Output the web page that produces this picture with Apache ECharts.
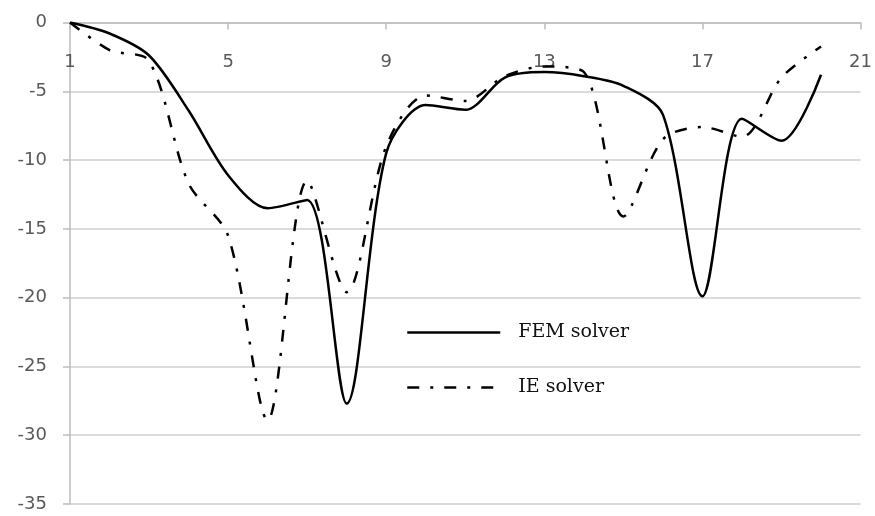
<!DOCTYPE html>
<html>
<head>
<meta charset="utf-8">
<script src="https://cdn.jsdelivr.net/npm/echarts@6/dist/echarts.min.js"></script>
<style>
html,body{margin:0;padding:0;background:#fff;}
#chart{width:875px;height:516px;}
</style>
</head>
<body>
<div id="chart"></div>
<script>
const categories = ['1','2','3','4','5','6','7','8','9','10','11','12','13','14','15','16','17','18','19','20','21'];
const femValues = [0, -0.8, -2.4, -6.4, -11.1, -13.5, -12.9, -27.7, -9.5, -6.0, -6.35, -4.0, -3.6, -3.9, -4.6, -6.7, -19.9, -7.0, -8.6, -3.8];
const ieValues  = [0, -2.0, -2.8, -11.7, -15.5, -28.9, -11.5, -19.6, -9.0, -5.3, -5.7, -3.9, -3.2, -3.6, -14.1, -8.5, -7.6, -8.3, -4.0, -1.75];
const seriesNames = ['FEM solver', 'IE solver'];

const chart = echarts.init(document.getElementById('chart'), null, {renderer: 'canvas'});
const labelFont = {fontFamily: 'DejaVu Sans', fontSize: 18, color: '#595959'};
chart.setOption({
  animation: false,
  backgroundColor: '#ffffff',
  grid: {left: 70, right: 12, top: 22.5, bottom: 12},
  legend: {
    orient: 'vertical',
    left: 401,
    top: 318,
    itemWidth: 93,
    itemHeight: 14,
    itemGap: 36,
    itemStyle: {opacity: 0},
    lineStyle: {width: 2.5},
    textStyle: {fontFamily: 'DejaVu Serif', fontSize: 19, color: '#111', padding: [8, 0, 0, 13]},
    data: seriesNames
  },
  xAxis: {
    type: 'category',
    data: categories,
    position: 'top',
    boundaryGap: false,
    axisLine: {onZero: false, lineStyle: {color: '#bdbdbd', width: 1.5}},
    axisTick: {show: true, inside: true, interval: 3, length: 7, lineStyle: {color: '#bdbdbd', width: 1.5}},
    axisLabel: Object.assign({inside: true, interval: 3, margin: 31}, labelFont),
    splitLine: {show: false}
  },
  yAxis: {
    type: 'value',
    min: -35,
    max: 0,
    interval: 5,
    axisLine: {show: true, lineStyle: {color: '#bdbdbd', width: 1.5}},
    axisTick: {show: true, length: 7, lineStyle: {color: '#bdbdbd', width: 1.5}},
    axisLabel: Object.assign({margin: 23}, labelFont),
    splitLine: {show: true, lineStyle: {color: '#cfcfcf', width: 1.5}}
  },
  series: [
    {
      name: seriesNames[0],
      type: 'line',
      data: femValues,
      smooth: 0.3,
      symbol: 'none',
      lineStyle: {color: '#000', width: 2.5, type: 'solid'},
      itemStyle: {color: '#000'}
    },
    {
      name: seriesNames[1],
      type: 'line',
      data: ieValues,
      smooth: 0.3,
      symbol: 'none',
      lineStyle: {color: '#000', width: 2.5, type: [12, 11, 3, 11], cap: 'butt'},
      itemStyle: {color: '#000'}
    }
  ]
});
</script>
</body>
</html>
